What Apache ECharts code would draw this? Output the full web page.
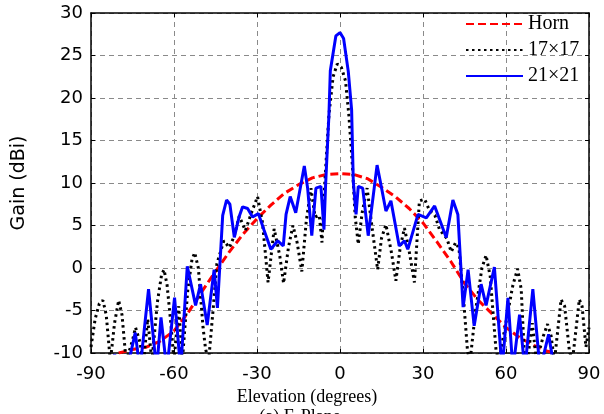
<!DOCTYPE html>
<html>
<head>
<meta charset="utf-8">
<script src="https://cdn.jsdelivr.net/npm/echarts@6/dist/echarts.min.js"></script>
<style>html,body{margin:0;padding:0;background:#fff;}#c{width:604px;height:414px;}</style>
</head>
<body>
<div id="c"></div>
<script>
// ---- data ----
const xTicks = [-90, -60, -30, 0, 30, 60, 90];
const yTicks = [-10, -5, 0, 5, 10, 15, 20, 25, 30];
const seriesNames = ['Horn', '17\u00d717', '21\u00d721'];

const hornAngle = [-80, -75, -70, -65, -60, -55, -50, -45, -40, -35, -30, -25, -20, -15, -10, -5, 0, 5, 10, 15, 20, 25, 30, 35, 40, 45, 50, 55, 60, 65, 70, 75, 78];
const hornGain  = [-10, -9.6, -9.3, -8.6, -7.4, -5.3, -2.8, -0.4, 1.9, 4.0, 5.8, 7.4, 8.8, 9.8, 10.6, 11.0, 11.1, 11.0, 10.5, 9.5, 8.4, 7.0, 5.3, 3.1, 0.8, -1.8, -3.8, -5.4, -7.0, -8.2, -9.1, -9.8, -10];

const arr17Angle = [-90, -88.5, -87, -85.7, -84.5, -83, -81.5, -80, -78.8, -77.3, -75, -73.9, -72.5, -71, -69.5, -68, -66, -64.5, -63.6, -62.5, -61, -60, -58.3, -57, -55, -53.5, -52.5, -51.2, -49.5, -48.6, -47.5, -46, -44.5, -42, -40, -38.3, -36.4, -34.2, -32, -29.8, -28, -26, -23.8, -21.8, -20.4, -18.6, -17, -15.5, -13.8, -12.2, -10.5, -9, -7.5, -6.5, -5.5, -4, -2.5, -1, 0.5, 2, 3.2, 4.5, 5.5, 6.6, 8, 9.8, 11.5, 13.6, 15, 16.6, 18.5, 20.2, 21.8, 23.3, 25, 26.9, 28.7, 30.6, 32.3, 34.3, 36, 38.6, 40.2, 41.8, 43, 44.5, 46.1, 47, 49, 51.3, 52.8, 54.3, 55.5, 56.4, 57.5, 58.5, 60.5, 62.5, 64.2, 65.5, 66.6, 67.7, 69.5, 71, 73.5, 75, 76.3, 77.5, 79.9, 81.2, 82.9, 84, 86.5, 87.5, 88.9, 90];
const arr17Gain  = [-9.3, -6, -4.2, -3.8, -5.5, -11, -6.5, -3.8, -5.5, -11, -8.5, -7.0, -8.5, -11, -6, -11, -4, -0.8, -0.2, -2, -7, -11, -4.5, -11, -2.5, 1.0, 1.8, 0, -7, -9.5, -11, -5.4, 0.5, 3.2, 2.4, 3.7, 6.1, 4.4, 6.5, 8.4, 5.3, -1.7, 4.6, 1.5, -1.8, 2.5, 5.0, 3.0, -0.4, 5.5, 9.4, 6.0, 6.2, 3.0, 10, 18, 22.5, 24.0, 23.6, 22, 18, 12, 6, 2.8, 6.5, 9.4, 5, -0.2, 3.5, 5.1, 2, -1.5, 2.5, 4.7, 2, -1.7, 7.9, 8.1, 6.8, 6.2, 4.5, 3.5, 1.9, 3.0, 2.3, -3, -9.8, -11, -5, 0, 1.5, -1, -6, -9.7, -11, -9, -5.5, -2, -0.1, -2.5, -10, -11, -6.5, -11, -8, -6.6, -8, -11, -3.7, -4.5, -9.7, -11, -3.7, -4.5, -9.3, -7];

const arr21Angle = [-90, -84, -81.5, -77, -74, -72.3, -69.2, -66.3, -64.7, -62.6, -59.8, -57.6, -55.2, -52.2, -50.4, -48, -45.5, -44.3, -42.4, -41, -39.8, -38.2, -36.5, -35.2, -33.4, -31.6, -29.5, -27.5, -25, -22.5, -20.5, -19.5, -18, -16, -12.9, -11.7, -10.2, -8.7, -6.9, -5.8, -5.2, -4.0, -3.5, -1.5, 0, 1.3, 3.0, 4.2, 4.8, 5.8, 6.6, 8.2, 10.2, 13.4, 14.8, 16.6, 18.4, 21.4, 23.3, 24.5, 28.2, 31.2, 34.2, 38.4, 40.8, 42.6, 44.5, 46.3, 48.5, 51, 52.8, 55.8, 58.6, 60.7, 62.5, 64.9, 66.8, 69.7, 72.3, 75.4, 77.5, 80, 82.5, 85, 90];
const arr21Gain  = [-14, -12, -10.2, -12, -7.6, -12, -2.5, -12, -5.8, -12, -3.5, -12, 0.2, -4.4, -1.9, -6.7, -0.2, -4.7, 6.2, 8.0, 7.5, 3.6, 6.0, 7.2, 7.0, 6.0, 6.4, 4.5, 2.2, 3.2, 2.6, 6.3, 8.4, 6.5, 12.0, 9.4, 3.8, 9.4, 9.6, 4.5, 9.8, 18, 23.2, 27.3, 27.7, 27.0, 23.1, 18.6, 10.2, 6.3, 9.6, 9.4, 3.8, 12.1, 9.8, 6.7, 7.9, 2.6, 3.2, 2.2, 6.3, 5.9, 7.3, 3.6, 8.0, 6.3, -4.6, -0.2, -6.8, -1.9, -4.4, 0.1, -12, -3.5, -12, -5.5, -12, -2.5, -12, -7.8, -12, -12, -10.3, -13, -14];

// ---- build chart ----
const zip = (a, b) => a.map((v, i) => [v, b[i]]);
const chart = echarts.init(document.getElementById('c'), null, {renderer: 'canvas'});
const sansFont = 'DejaVu Sans';
const serifFont = 'Liberation Serif';

const baseX = {
  type: 'value', min: xTicks[0], max: xTicks[xTicks.length - 1], interval: 30,
  axisLine: {show: true, onZero: false, lineStyle: {color: '#000', width: 1.5}},
  axisTick: {show: true, inside: true, length: 4, lineStyle: {color: '#000', width: 1}}
};
const baseY = {
  type: 'value', min: yTicks[0], max: yTicks[yTicks.length - 1], interval: 5,
  axisLine: {show: true, onZero: false, lineStyle: {color: '#000', width: 1.5}},
  axisTick: {show: true, inside: true, length: 4, lineStyle: {color: '#000', width: 1}}
};

chart.setOption({
  backgroundColor: '#fff',
  animation: false,
  grid: {left: 91, right: 15, top: 13, bottom: 61, containLabel: false, outerBoundsMode: 'none'},
  legend: {
    orient: 'vertical', left: 460, top: 9,
    itemWidth: 57, itemHeight: 14, itemGap: 6,
    data: seriesNames,
    itemStyle: {opacity: 0},
    textStyle: {fontFamily: serifFont, fontSize: 20, color: '#000', lineHeight: 20}
  },
  xAxis: [
    Object.assign({}, baseX, {
      position: 'bottom',
      axisLabel: {show: true, margin: 12, color: '#000', fontFamily: sansFont, fontSize: 18},
      splitLine: {show: true, lineStyle: {color: '#8a8a8a', width: 1, type: [5, 4]}}
    }),
    Object.assign({}, baseX, {position: 'top', axisLabel: {show: false}, splitLine: {show: false}})
  ],
  yAxis: [
    Object.assign({}, baseY, {
      position: 'left',
      name: 'Gain (dBi)', nameLocation: 'middle', nameGap: 62, nameRotate: 90,
      nameTextStyle: {fontFamily: sansFont, fontSize: 19, color: '#000'},
      axisLabel: {show: true, margin: 8, color: '#000', fontFamily: sansFont, fontSize: 18},
      splitLine: {show: true, lineStyle: {color: '#8a8a8a', width: 1, type: [5, 4]}}
    }),
    Object.assign({}, baseY, {position: 'right', axisLabel: {show: false}, splitLine: {show: false}})
  ],
  graphic: [
    {type: 'text', x: 307, y: 397, silent: true,
     style: {text: 'Elevation (degrees)', fill: '#000', font: '18px "Liberation Serif"', align: 'center', verticalAlign: 'middle'}},
    {type: 'text', x: 300, y: 408, silent: true,
     style: {text: '(a) E-Plane', fill: '#000', font: '18px "Liberation Serif"', align: 'center', verticalAlign: 'top'}}
  ],
  series: [
    {name: seriesNames[0], type: 'line', data: zip(hornAngle, hornGain), symbol: 'none', clip: true,
     lineStyle: {color: '#ff0000', width: 3, type: [8, 4]}, itemStyle: {color: '#ff0000'}, z: 2},
    {name: seriesNames[1], type: 'line', data: zip(arr17Angle, arr17Gain), symbol: 'none', clip: true,
     lineStyle: {color: '#000', width: 3, type: [2.5, 3.5]}, itemStyle: {color: '#000'}, z: 3},
    {name: seriesNames[2], type: 'line', data: zip(arr21Angle, arr21Gain), symbol: 'none', clip: true,
     lineStyle: {color: '#0000ff', width: 3}, itemStyle: {color: '#0000ff'}, z: 4}
  ]
});
</script>
</body>
</html>
